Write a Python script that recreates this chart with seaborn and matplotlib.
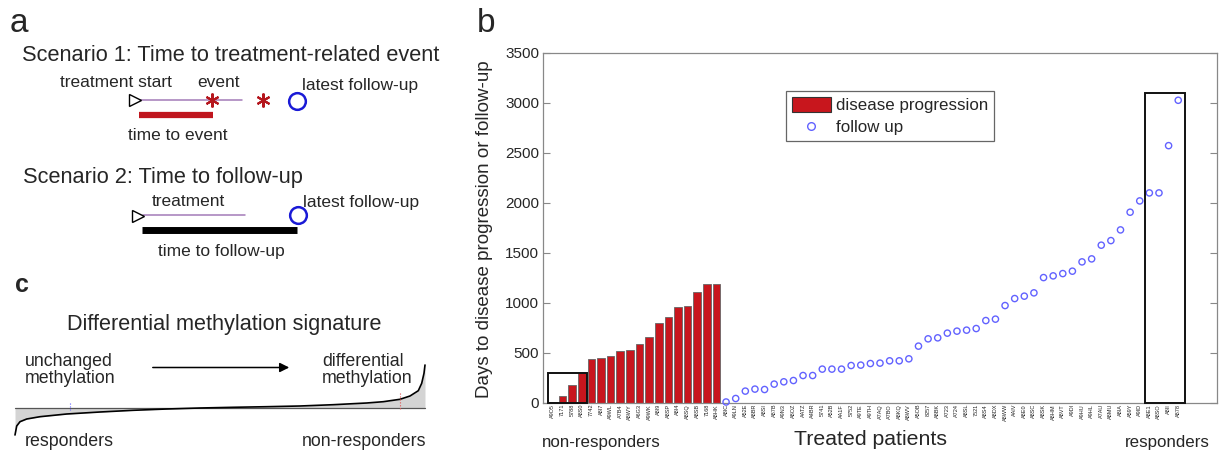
import numpy as np
import pandas as pd
import seaborn as sns
import matplotlib.pyplot as plt
from matplotlib.patches import Patch, Rectangle
from matplotlib.lines import Line2D

# dados do painel b
prog_ids = ['A9O5', '7171', '5788', 'A8S0', '7742', 'A8I7', 'A9WL', 'A7B4', 'A8WY',
            'A6G3', 'A9WK', 'A8I9', 'A8SP', 'A8I4', 'A8SQ', 'A8SB', '7168', 'A8HK']
prog_days = [10, 70, 177, 300, 440, 444, 467, 520, 530, 590, 654, 794, 857, 960,
             964, 1107, 1184, 1184]

fu_ids = ['A8IC', 'A9LN', 'A52E', 'A8BR', 'A8SI', 'A87B', 'A9N3', 'A8OZ', 'AATZ',
          'A4BR', '5741', 'A52B', 'AA1F', '5752', 'A9TE', 'A9TH', 'A7AQ', 'A7BO',
          'A8KQ', 'A8WV', 'A5OB', '8257', 'A8BK', 'A723', 'A724', 'A8SL', '7521',
          'A8S4', 'A8DX', 'A8WW', 'AAIV', 'A8E0', 'A8SC', 'A8SK', 'A8HM', 'A8VT',
          'A9DI', 'A9HU', 'A9HL', 'A7AU', 'A8MU', 'A8IA', 'A59Y', 'A9ID', 'A8E1',
          'A8SO', 'A8II', 'A878']
fu_days = [5, 40, 114, 134, 130, 184, 207, 220, 270, 270, 334, 334, 334, 370,
           374, 390, 394, 417, 417, 437, 564, 637, 647, 694, 714, 724, 740, 820,
           834, 970, 1040, 1064, 1097, 1250, 1267, 1290, 1314, 1407, 1437, 1574,
           1620, 1727, 1904, 2017, 2097, 2097, 2570, 3024]

y_ticks = [0, 500, 1000, 1500, 2000, 2500, 3000, 3500]

# curva esquematica do painel c (pixels)
sig_x = [15, 16.7, 20, 26.7, 40, 66.7, 100, 133.3, 166.7, 200, 233.3, 266.7, 300,
         333.3, 366.7, 383.3, 400, 410, 418.3, 421.7, 424, 425]
sig_y = [435, 426, 421.7, 419, 416.7, 414, 412, 410.3, 409, 408, 407.3, 406.7, 406,
         404.7, 403, 401.7, 399.3, 396, 390.7, 383.3, 373.3, 365]
sig_base = 407.7

RED = '#c8161d'
BLUE = '#6262ff'

sns.set_style('white')
plt.rcParams['font.family'] = ['Liberation Sans', 'DejaVu Sans']

W, H = 1221, 453
fig = plt.figure(figsize=(W / 100, H / 100), dpi=100)

# camada em pixels para os paineis a e c
ov = fig.add_axes([0, 0, 1, 1])
ov.set_xlim(0, W)
ov.set_ylim(H, 0)
ov.axis('off')
ov.patch.set_visible(False)

# painel b
ax = fig.add_axes([543.3 / W, 1 - 402.5 / H, 673.4 / W, 349.8 / H])
ax.patch.set_visible(False)

all_ids = prog_ids + fu_ids
df_prog = pd.DataFrame({'pos': np.arange(len(prog_ids)), 'days': prog_days})
df_fu = pd.DataFrame({'pos': np.arange(len(prog_ids), len(all_ids)), 'days': fu_days})

sns.barplot(data=df_prog, x='pos', y='days', native_scale=True, color=RED,
            saturation=1, edgecolor='#666666', linewidth=0.6, width=0.8, ax=ax)
sns.scatterplot(data=df_fu, x='pos', y='days', marker='o', s=20, facecolor='none',
                edgecolor=BLUE, linewidth=1.0, ax=ax, clip_on=False, zorder=3)

ax.set_xlim(-1, len(all_ids) + 3)
ax.set_ylim(0, 3500)
ax.set_yticks(y_ticks)
ax.set_yticklabels([str(t) for t in y_ticks], fontsize=11)
ax.set_xticks(range(len(all_ids)))
ax.set_xticklabels(all_ids, rotation=90, fontsize=4, color='#222222')
ax.tick_params(axis='x', length=0, pad=1)
ax.tick_params(axis='y', direction='in', left=True, right=True, length=5,
               color='#888888', pad=3)
for s in ax.spines.values():
    s.set_color('#888888')
    s.set_linewidth(0.9)
ax.set_xlabel('')
ax.set_ylabel('Days to disease progression or follow-up', fontsize=13.5)
ax.yaxis.set_label_coords(-0.075, 0.495)

ax.add_patch(Rectangle((-0.5, 0), 4, 300, fill=False, ec='#111111', lw=1.4,
                       clip_on=False, zorder=4))
ax.add_patch(Rectangle((61.5, 0), 4.25, 3100, fill=False, ec='#111111', lw=1.4,
                       clip_on=False, zorder=4))

handles = [Patch(facecolor=RED, edgecolor='#333333', lw=0.8),
           Line2D([], [], marker='o', ls='', mfc='none', mec=BLUE, ms=5.5, mew=1)]
leg = ax.legend(handles, ['disease progression', 'follow up'], loc='upper left',
                bbox_to_anchor=(0.36, 0.8905), borderaxespad=0, fontsize=12.2,
                fancybox=False, framealpha=1, edgecolor='#666666',
                handlelength=2.3, handleheight=0.95, handletextpad=0.3,
                labelspacing=0.35, borderpad=0.35)
leg.get_frame().set_linewidth(0.9)

ov.text(870, 445, 'Treated patients', fontsize=15.3, ha='center', va='baseline')
ov.text(542, 447, 'non-responders', fontsize=12.2, va='baseline')
ov.text(1125, 447, 'responders', fontsize=12.2, va='baseline')

# letras dos paineis
ov.text(10, 32, 'a', fontsize=24, va='baseline')
ov.text(477, 32, 'b', fontsize=24, va='baseline')
ov.text(15, 292, 'c', fontsize=18, va='baseline', fontweight='bold')

# painel a
PURPLE = '#a37ab8'
ov.text(22, 61, 'Scenario 1: Time to treatment-related event', fontsize=15.7,
        va='baseline')
ov.text(60, 87, 'treatment start', fontsize=12.5, va='baseline')
ov.text(197, 87, 'event', fontsize=12.5, va='baseline')
ov.text(302, 90, 'latest follow-up', fontsize=12.5, va='baseline')
ov.plot([140, 242], [100, 100], color=PURPLE, lw=1.1)
ov.plot([135], [100], marker='>', ms=9, mfc='white', mec='black', mew=1)
ov.plot([212, 263], [100, 100], ls='', marker=(6, 2, 0), ms=10, mec='#b5161d',
        mew=1.5)
ov.plot([297], [101], marker='o', ms=12, mfc='none', mec='#1a1ad6', mew=1.8)
ov.plot([139, 213], [115, 115], color='#c0161e', lw=4.5, solid_capstyle='butt')
ov.text(128, 140, 'time to event', fontsize=12.5, va='baseline')

ov.text(23, 183, 'Scenario 2: Time to follow-up', fontsize=15.7, va='baseline')
ov.text(152, 206, 'treatment', fontsize=12.5, va='baseline')
ov.text(303, 207, 'latest follow-up', fontsize=12.5, va='baseline')
ov.plot([143, 245], [215, 215], color=PURPLE, lw=1.1)
ov.plot([138], [216], marker='>', ms=9, mfc='white', mec='black', mew=1)
ov.plot([298], [215], marker='o', ms=12, mfc='none', mec='#1a1ad6', mew=1.8)
ov.plot([142, 297], [230, 230], color='black', lw=5, solid_capstyle='butt')
ov.text(158, 256, 'time to follow-up', fontsize=12.5, va='baseline')

# painel c
ov.text(224.5, 330, 'Differential methylation signature', fontsize=15.6,
        ha='center', va='baseline')
ov.text(25, 366, 'unchanged', fontsize=12.8, va='baseline')
ov.text(25, 383, 'methylation', fontsize=12.8, va='baseline')
ov.text(322, 366, 'differential', fontsize=12.8, va='baseline')
ov.text(322, 383, 'methylation', fontsize=12.8, va='baseline')
ov.annotate('', xy=(292, 367.5), xytext=(150, 367.5),
            arrowprops=dict(arrowstyle='-|>', color='black', lw=1.1,
                            mutation_scale=14))
ov.fill_between(sig_x, sig_y, sig_base, color='#d4d4d4', lw=0)
ov.plot([15, 425], [sig_base, sig_base], color='#555555', lw=0.9)
ov.plot(sig_x, sig_y, color='black', lw=1.2)
ov.plot([70, 70], [403, 410], color='#6666ff', lw=0.8, ls=':')
ov.plot([400, 400], [393, 410], color='#e05050', lw=0.8, ls=':')
ov.text(25, 445.5, 'responders', fontsize=12.8, va='baseline')
ov.text(302, 445.5, 'non-responders', fontsize=12.8, va='baseline')

fig.savefig('out.png', dpi=100)
